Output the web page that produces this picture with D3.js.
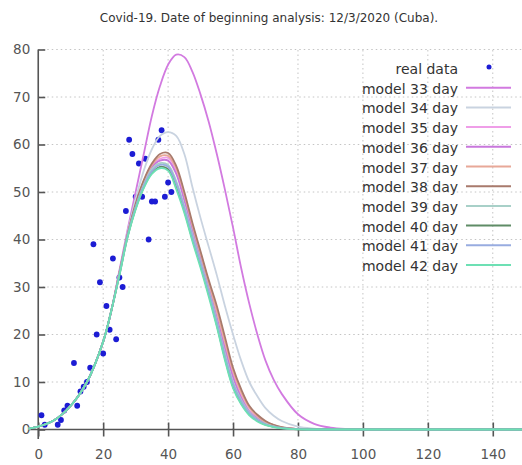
<!DOCTYPE html>
<html>
<head>
<meta charset="utf-8">
<script src="https://cdn.jsdelivr.net/npm/d3@7/dist/d3.min.js"></script>
<style>
    body { margin:0; background:#fff; }
    text { font-family:"DejaVu Sans", Verdana, sans-serif; }
</style>
</head>
<body>
<div class="draw"></div>
<script>
var title = "Covid-19. Date of beginning analysis: 12/3/2020 (Cuba).";

// real data (day, cases)
var realDays = [1,2,6,7,8,9,11,12,13,14,15,16,17,18,19,20,21,22,23,24,25,26,27,28,29,30,31,32,33,34,35,36,37,38,39,40,41];
var realCases = [3,1,1,2,4,5,14,5,8,9,10,13,39,20,31,16,26,21,36,19,32,30,46,61,58,49,56,49,57,40,48,48,61,63,49,52,50];

// model curves at these days
var modelDays = [-3,0,5,10,15,20,22.5,25,27.5,30,32.5,35,37.5,40,42.5,45,47.5,50,52.5,55,57.5,60,62.5,65,67.5,70,72.5,75,80,85,90,95,100,149];
var model33 = [0.2,0.6,2,5,10,18.5,25,33.5,42,50,58,66,72.3,76.8,78.9,78.4,75.3,70.5,64.8,58,50.5,42.5,34,26.5,20,14.5,10.5,7.5,3.2,1.2,0.4,0.1,0,0];
var model34 = [0.2,0.6,2,5,10,18.5,25,33,41.5,48.5,54.5,59,61.8,62.6,61.8,58,51,44.5,38.5,32.5,26,20,14.5,10,7,4.5,2.9,1.8,0.6,0.2,0.05,0,0,0];
var model35 = [0.2,0.6,2,5,10,18.5,25,33,41,47,52,55.5,57,57.2,54.5,49,42.5,36.5,30.5,24,17.5,11.5,7,4,2.5,1.4,0.8,0.4,0.1,0,0,0,0,0];
var model36 = [0.2,0.6,2,5,10,18.5,25,33,41,47,52,55.2,56.6,56.6,53.8,48.2,42,36,30,23.5,17,11,6.7,3.8,2.3,1.3,0.75,0.4,0.1,0,0,0,0,0];
var model37 = [0.2,0.6,2,5,10,18.5,25,33,41,47.3,52.3,55.7,57.5,57.6,55,49.5,43,37,31,25,18.5,12.3,7.8,4.6,2.8,1.6,0.9,0.45,0.1,0,0,0,0,0];
var model38 = [0.2,0.6,2,5,10,18.5,25,33,41,47.5,52.5,56,58,58.2,55.5,50,43.5,37.5,31.5,26,19.5,13,8.5,5,3.1,1.8,1,0.5,0.1,0,0,0,0,0];
var model39 = [0.2,0.6,2,5,10,18.5,25,32.8,40.8,46.8,51.5,54.8,56.1,55.7,52.3,47,41,35.3,29.3,22.8,16,10,6.2,3.6,2.1,1.2,0.65,0.35,0.08,0,0,0,0,0];
var model40 = [0.2,0.6,2,5,10,18.5,25,32.5,40.5,46.5,51,54,55.3,54.8,51,46,40,34.5,28.5,22,15,9,5.5,3.2,1.9,1,0.55,0.3,0.05,0,0,0,0,0];
var model41 = [0.2,0.6,2,5,10,18.5,25,32.7,40.7,46.7,51.3,54.4,55.7,55.3,51.8,46.6,40.6,35,29,22.5,15.5,9.6,5.9,3.4,2,1.1,0.6,0.3,0.06,0,0,0,0,0];
var model42 = [0.2,0.6,2,5,10,18.5,25,32.4,40.4,46.3,50.8,53.8,55,54.5,50.6,45.6,39.6,34,28,21.6,14.6,8.7,5.3,3,1.7,0.9,0.5,0.25,0.04,0,0,0,0,0];

var modelNames = ["model 33 day","model 34 day","model 35 day","model 36 day","model 37 day","model 38 day","model 39 day","model 40 day","model 41 day","model 42 day"];
var modelColors = ["#d27ae0","#c9d3e0","#ef9ee8","#c877dc","#e8a898","#a87a6c","#a8d0c8","#5f8c66","#98ace0","#6de0b4"];
var models = [model33,model34,model35,model36,model37,model38,model39,model40,model41,model42];

var xTicks = [0,20,40,60,80,100,120,140];
var yTicks = [0,10,20,30,40,50,60,70,80];

var width = 522, height = 465;

var svg = d3.select(".draw").append("svg")
    .attr("width", width)
    .attr("height", height);

var xlinear = d3.scaleLinear().domain([-3, 149]).range([28.5, 522]);
var ylinear = d3.scaleLinear().domain([-2, 80]).range([439, 49.5]);

// dotted grid
svg.append("g").selectAll("line.hg")
    .data(yTicks.slice(1)).enter().append("line")
    .attr("x1", xlinear(0)).attr("x2", width)
    .attr("y1", function (d) { return ylinear(d); })
    .attr("y2", function (d) { return ylinear(d); })
    .attr("stroke", "#c4c4c4").attr("stroke-width", 1)
    .attr("stroke-dasharray", "1.5,3");
svg.append("g").selectAll("line.vg")
    .data(xTicks.slice(1)).enter().append("line")
    .attr("y1", ylinear(0)).attr("y2", ylinear(80))
    .attr("x1", function (d) { return xlinear(d); })
    .attr("x2", function (d) { return xlinear(d); })
    .attr("stroke", "#c4c4c4").attr("stroke-width", 1)
    .attr("stroke-dasharray", "1.5,3");

// axes (crossing ticks, like the original)
var axisColor = "#555";
svg.append("line")
    .attr("x1", xlinear(-3)).attr("x2", width)
    .attr("y1", ylinear(0)).attr("y2", ylinear(0))
    .attr("stroke", axisColor).attr("stroke-width", 1.6);
svg.append("line")
    .attr("x1", xlinear(0)).attr("x2", xlinear(0))
    .attr("y1", ylinear(-2)).attr("y2", ylinear(80))
    .attr("stroke", axisColor).attr("stroke-width", 1.6);

var xaxis = svg.append("g").attr("transform", "translate(0," + ylinear(0) + ")")
    .call(d3.axisBottom(xlinear).tickValues(xTicks).tickSizeInner(7).tickSizeOuter(0).tickPadding(13));
xaxis.select(".domain").remove();
xaxis.selectAll(".tick line").attr("y1", -7).attr("stroke", axisColor).attr("stroke-width", 1.6);
xaxis.selectAll(".tick text").attr("font-size", 13.5).attr("fill", "#555").attr("font-family", "DejaVu Sans");

var yaxis = svg.append("g").attr("transform", "translate(" + xlinear(0) + ",0)")
    .call(d3.axisLeft(ylinear).tickValues(yTicks).tickSizeInner(8).tickSizeOuter(0).tickPadding(0));
yaxis.select(".domain").remove();
yaxis.selectAll(".tick line").attr("x2", 7).attr("stroke", axisColor).attr("stroke-width", 1.6);
yaxis.selectAll(".tick text").attr("font-size", 13.5).attr("fill", "#555").attr("font-family", "DejaVu Sans");

// real data points
svg.append("g").selectAll("circle")
    .data(realDays).enter().append("circle")
    .attr("r", 2.9)
    .attr("cx", function (d) { return xlinear(d); })
    .attr("cy", function (d, i) { return ylinear(realCases[i]); })
    .attr("fill", "#1c1cd4");

// model curves
var line = d3.line()
    .x(function (d, i) { return xlinear(modelDays[i]); })
    .y(function (d) { return ylinear(d); })
    .curve(d3.curveCatmullRom.alpha(0.5));

models.forEach(function (m, k) {
    svg.append("path")
        .attr("d", line(m))
        .attr("fill", "none")
        .attr("stroke", modelColors[k])
        .attr("stroke-width", 1.8);
});

// legend
var lg = svg.append("g").attr("font-size", 14).attr("fill", "#333");
var rowY = function (i) { return 69 + i * 19.7; };
lg.append("text").attr("x", 458).attr("y", rowY(0) + 5).attr("text-anchor", "end").text("real data");
lg.append("circle").attr("cx", 489).attr("cy", rowY(0) - 2).attr("r", 2.5).attr("fill", "#1c1cd4");
modelNames.forEach(function (n, k) {
    lg.append("text").attr("x", 458).attr("y", rowY(k + 1) + 5).attr("text-anchor", "end").text(n);
    lg.append("line")
        .attr("x1", 466).attr("x2", 511)
        .attr("y1", rowY(k + 1) - 1).attr("y2", rowY(k + 1) - 1)
        .attr("stroke", modelColors[k]).attr("stroke-width", 2);
});

// title
svg.append("text")
    .attr("x", 269).attr("y", 22)
    .attr("text-anchor", "middle")
    .attr("font-size", 12)
    .attr("fill", "#333")
    .text(title);
</script>
</body>
</html>
